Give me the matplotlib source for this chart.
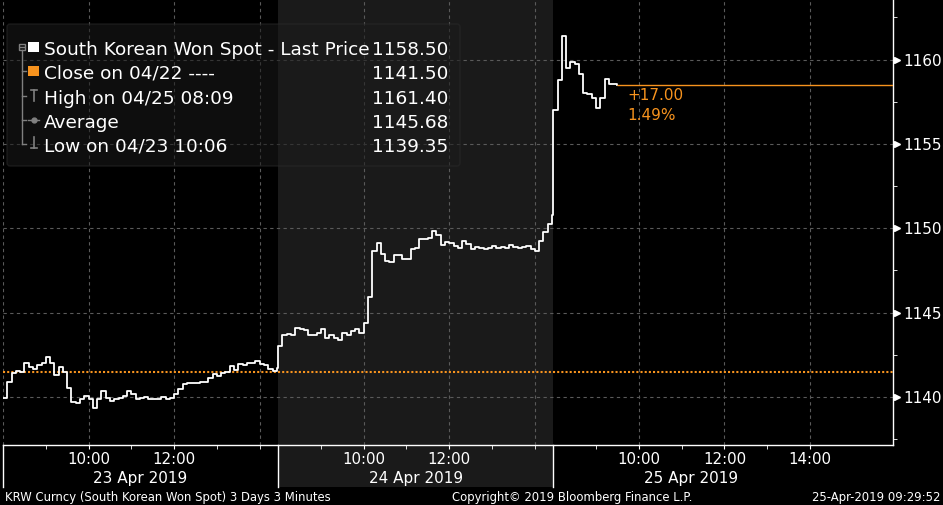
import numpy as np
import matplotlib.pyplot as plt
from matplotlib.patches import Rectangle, FancyBboxPatch

# KRW spot, sampled every 6 minutes from 08:00 of each session
day1 = [1139.95, 1140.90, 1141.40, 1141.55, 1141.45, 1142.00, 1141.75, 1141.65, 1141.90, 1142.00,
        1142.38, 1142.00, 1141.30, 1141.75, 1141.50, 1140.55, 1139.70, 1139.65, 1139.85, 1140.05,
        1139.90, 1139.35, 1139.85, 1140.35, 1139.95, 1139.75, 1139.85, 1139.95, 1140.05, 1140.35,
        1140.15, 1139.85, 1139.95, 1139.97, 1139.90, 1139.85, 1139.90, 1140.00, 1139.90, 1139.95,
        1140.20, 1140.45, 1140.75, 1140.80, 1140.85, 1140.80, 1140.90, 1140.90, 1141.10, 1141.35,
        1141.25, 1141.40, 1141.45, 1141.85, 1141.60, 1141.95, 1141.90, 1142.00, 1142.00, 1142.10,
        1141.95, 1141.90, 1141.65, 1141.55, 1141.70]
day2 = [1143.00, 1143.70, 1143.75, 1143.70, 1144.10, 1144.05, 1143.95, 1143.70, 1143.65, 1143.80,
        1144.00, 1143.50, 1143.70, 1143.50, 1143.40, 1143.80, 1143.70, 1143.90, 1144.05, 1143.80,
        1144.40, 1145.95, 1148.65, 1149.10, 1148.50, 1148.05, 1148.00, 1148.40, 1148.40, 1148.15,
        1148.15, 1148.75, 1148.80, 1149.35, 1149.35, 1149.45, 1149.85, 1149.60, 1149.00, 1149.20,
        1149.10, 1148.95, 1148.85, 1149.25, 1149.05, 1148.75, 1148.90, 1148.80, 1148.75, 1148.80,
        1148.95, 1148.85, 1148.90, 1148.85, 1149.00, 1148.90, 1148.85, 1148.90, 1148.95, 1148.75,
        1148.65, 1149.25, 1149.75, 1150.25, 1150.80]
day3 = [1157.00, 1158.80, 1161.40, 1159.50, 1159.85, 1159.75, 1159.15, 1158.00, 1157.95, 1157.75,
        1157.10, 1157.75, 1158.85, 1158.55, 1158.55, 1158.50]
dates = ['23 Apr 2019', '24 Apr 2019', '25 Apr 2019']

prev_close = 1141.50
last_price = 1158.50
legend_names = ['South Korean Won Spot - Last Price', 'Close on 04/22 ----', 'High on 04/25 08:09',
                'Average', 'Low on 04/23 10:06']
legend_values = [1158.50, 1141.50, 1161.40, 1145.68, 1139.35]

step_h = 0.1          # 6 minutes
session = 6.43        # hours of axis per trading day
orange = '#f7931e'
grid_c = '#5a5a5a'

# x positions in "axis hours" (0 = 08:00 on 23 Apr)
xs, ys = [], []
for d, vals in enumerate([day1, day2, day3]):
    xs.extend(d * session + np.arange(len(vals)) * step_h)
    ys.extend(vals)
xs = np.array(xs)
ys = np.array(ys)

fig = plt.figure(figsize=(9.43, 5.05), dpi=100, facecolor='black')
ax = fig.add_axes([3 / 943, 60 / 505, 890 / 943, 445 / 505], facecolor='black')
ax.set_xlim(0, 20.8)
ax.set_ylim(1137.15, 1163.53)

below = 42 / 445  # depth of the date band under the axis, in axes units
xt = ax.get_xaxis_transform()

# shaded middle session (runs down through the date band)
ax.add_patch(Rectangle((session, -below), session, 1 + below, transform=xt,
                       facecolor='#1a1a1a', edgecolor='none', clip_on=False, zorder=0))

# grid
for v in range(1140, 1161, 5):
    ax.axhline(v, color=grid_c, ls=(0, (3, 3)), lw=0.8, zorder=1)
vgrid = [0] + [d * session + h for d in range(3) for h in (2, 4, 6)]
for g in vgrid:
    ax.axvline(g, color=grid_c, ls=(0, (3, 3)), lw=0.8, zorder=1)

# previous close and price
ax.axhline(prev_close, color=orange, ls=(0, (1, 1)), lw=1.5, zorder=2)
ax.step(xs, ys, where='post', color='white', lw=1.3, zorder=3)
ax.hlines(last_price, xs[-1], 20.8, color=orange, lw=1, zorder=3)

chg = last_price - prev_close
pct = chg / prev_close * 100
ax.annotate(f'{chg:+.2f}', xy=(xs[-1], last_price), xytext=(7, -8), textcoords='offset points',
            color=orange, fontsize=11, ha='left', va='center')
ax.annotate(f'{pct:.2f}%', xy=(xs[-1], last_price), xytext=(7, -22), textcoords='offset points',
            color=orange, fontsize=11, ha='left', va='center')

# spines
for s in ['top', 'left']:
    ax.spines[s].set_visible(False)
for s in ['bottom', 'right']:
    ax.spines[s].set_color('white')
    ax.spines[s].set_linewidth(1)

# y axis on the right
ax.yaxis.tick_right()
majors = list(range(1140, 1161, 5))
ax.set_yticks(majors)
ax.set_yticks(np.arange(1137.5, 1163, 5), minor=True)
ax.tick_params(axis='y', which='major', length=0, pad=7.5, labelcolor='white', labelsize=11)
ax.tick_params(axis='y', which='minor', length=3, color='white', direction='out')
ax.plot([1.0045] * len(majors), majors, transform=ax.get_yaxis_transform(), marker='>', ms=5,
        color='white', ls='none', clip_on=False, zorder=5)

# x axis: hour ticks
lab_pos, lab_txt = [], []
for d, hours in enumerate([(10, 12), (10, 12), (10, 12, 14)]):
    for h in hours:
        lab_pos.append(d * session + h - 8)
        lab_txt.append(f'{h}:00')
minor_pos = [d * session + h - 8 for d in range(3) for h in range(9, 15)]
ax.set_xticks(lab_pos)
ax.set_xticklabels(lab_txt)
ax.set_xticks(minor_pos, minor=True)
ax.tick_params(axis='x', which='both', length=3, color='white', direction='out',
               labelcolor='white', labelsize=10.8, pad=2)

for d in range(3):
    ax.plot([d * session] * 2, [0, -below], transform=xt, color='white', lw=1, clip_on=False)
    ax.text(d * session + 3.215, -38 / 445, dates[d], transform=xt, ha='center', va='baseline',
            color='white', fontsize=11)

# legend overlay in pixel coordinates
lax = fig.add_axes([0, 0, 1, 1])
lax.set_xlim(0, 943)
lax.set_ylim(505, 0)
lax.axis('off')
lax.patch.set_alpha(0)
lax.add_patch(FancyBboxPatch((7, 24), 453, 142, boxstyle='round,pad=0,rounding_size=3',
                             facecolor='#1a1a1a', edgecolor='#2a2a2a', lw=1, alpha=0.55))
row_c = [47, 71, 96, 119.5, 143.5]
tree = '#808080'
lax.plot([21.7, 21.7], [50, 143.5], color=tree, lw=1)
for r in row_c[1:]:
    lax.plot([21.7, 25.5], [r, r], color=tree, lw=1)
lax.add_patch(Rectangle((18.5, 43.5), 6.5, 6.5, facecolor='none', edgecolor=tree, lw=1))
lax.plot([20, 23.5], [46.7, 46.7], color=tree, lw=1)
lax.add_patch(Rectangle((28.3, 41.7), 11, 10.6, facecolor='white', edgecolor='none'))
lax.add_patch(Rectangle((28.3, 65.7), 11, 10.6, facecolor=orange, edgecolor='none'))
lax.plot([30.7, 37.3], [89.5, 89.5], color=tree, lw=1.2)
lax.plot([34, 34], [89.5, 100.5], color=tree, lw=1.2)
lax.plot([28.3, 39.3], [119.5, 119.5], color=tree, lw=1)
lax.plot([34], [119.5], marker='o', ms=3.5, color=tree)
lax.plot([34, 34], [137, 147.5], color=tree, lw=1.2)
lax.plot([30.7, 37.3], [147.5, 147.5], color=tree, lw=1.2)
for r, name, val in zip(row_c, legend_names, legend_values):
    lax.text(44, r + 8, name, color='white', fontsize=13.3, va='baseline', ha='left')
    lax.text(448, r + 8, f'{val:.2f}', color='white', fontsize=13.3, va='baseline', ha='right')

# footer
fig.text(5 / 943, 4.5 / 505, 'KRW Curncy (South Korean Won Spot) 3 Days 3 Minutes', color='white',
         fontsize=8.4, va='baseline', ha='left')
fig.text(572 / 943, 4.5 / 505, 'Copyright\u00a9 2019 Bloomberg Finance L.P.', color='white',
         fontsize=8.4, va='baseline', ha='center')
fig.text(940 / 943, 4.5 / 505, '25-Apr-2019 09:29:52', color='white',
         fontsize=8.4, va='baseline', ha='right')

fig.savefig('out.png', dpi=100, facecolor='black')
